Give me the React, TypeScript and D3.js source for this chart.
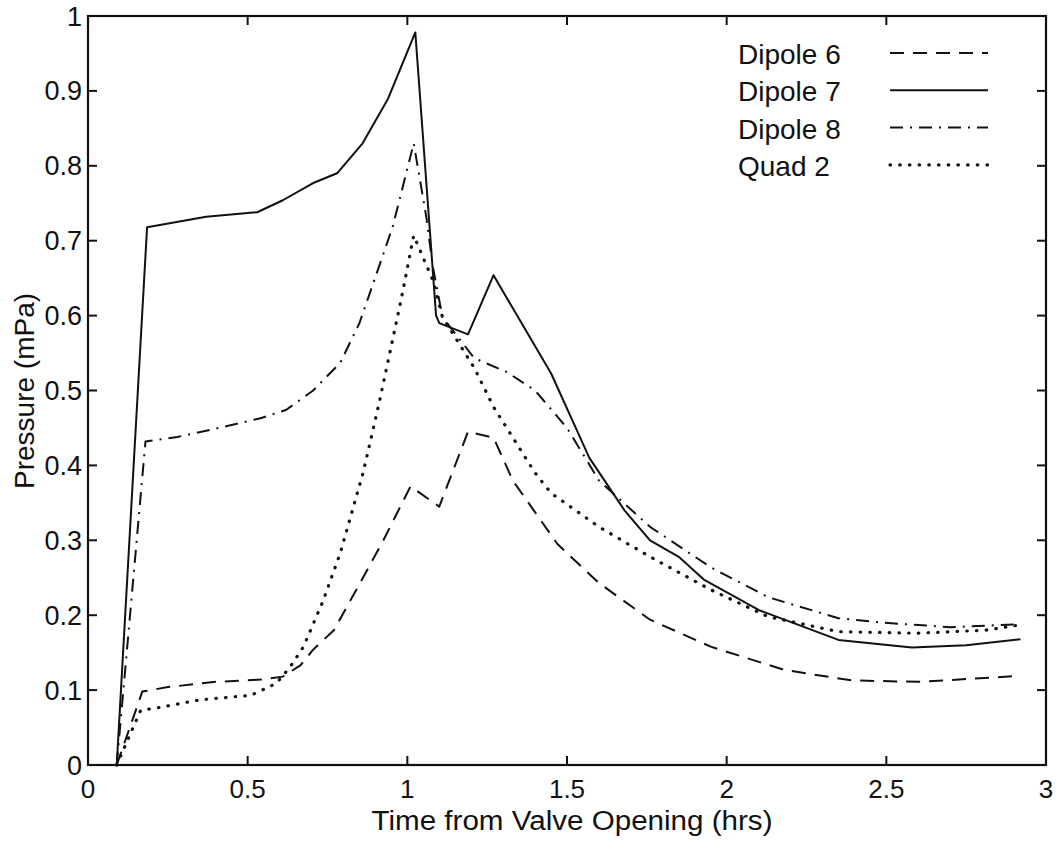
import React from "react";
import * as d3 from "d3";

const xTicks = [0, 0.5, 1, 1.5, 2, 2.5, 3];
const yTicks = [0, 0.1, 0.2, 0.3, 0.4, 0.5, 0.6, 0.7, 0.8, 0.9, 1];
const xTickLabels = ["0", "0.5", "1", "1.5", "2", "2.5", "3"];
const yTickLabels = ["0", "0.1", "0.2", "0.3", "0.4", "0.5", "0.6", "0.7", "0.8", "0.9", "1"];

const seriesNames = ["Dipole 6", "Dipole 7", "Dipole 8", "Quad 2"];

const dipole6X = [0.09, 0.17, 0.25, 0.40, 0.54, 0.61, 0.665, 0.705, 0.77, 0.843, 0.925, 1.01, 1.10, 1.19, 1.27, 1.33, 1.47, 1.6, 1.76, 1.95, 2.18, 2.39, 2.6, 2.92];
const dipole6Y = [0, 0.098, 0.104, 0.111, 0.114, 0.118, 0.133, 0.154, 0.18, 0.236, 0.30, 0.372, 0.345, 0.445, 0.437, 0.38, 0.295, 0.243, 0.194, 0.158, 0.127, 0.113, 0.111, 0.119];

const dipole7X = [0.09, 0.185, 0.37, 0.53, 0.61, 0.705, 0.78, 0.86, 0.94, 1.025, 1.09, 1.10, 1.19, 1.27, 1.33, 1.45, 1.57, 1.68, 1.76, 1.85, 1.93, 2.1, 2.35, 2.58, 2.75, 2.92];
const dipole7Y = [0, 0.718, 0.732, 0.738, 0.754, 0.777, 0.79, 0.83, 0.89, 0.978, 0.60, 0.59, 0.575, 0.654, 0.61, 0.523, 0.41, 0.34, 0.30, 0.278, 0.247, 0.207, 0.167, 0.157, 0.16, 0.168];

const dipole8X = [0.09, 0.18, 0.28, 0.41, 0.54, 0.62, 0.705, 0.79, 0.85, 0.915, 0.955, 1.02, 1.06, 1.08, 1.11, 1.21, 1.31, 1.40, 1.50, 1.60, 1.76, 1.95, 2.13, 2.35, 2.49, 2.70, 2.92];
const dipole8Y = [0, 0.432, 0.438, 0.45, 0.463, 0.474, 0.50, 0.537, 0.59, 0.67, 0.72, 0.83, 0.73, 0.665, 0.598, 0.543, 0.525, 0.50, 0.45, 0.38, 0.318, 0.264, 0.224, 0.196, 0.19, 0.184, 0.188];

const quad2X = [0.09, 0.165, 0.226, 0.35, 0.51, 0.59, 0.633, 0.675, 0.737, 0.79, 0.862, 0.91, 0.98, 1.02, 1.08, 1.11, 1.21, 1.27, 1.40, 1.45, 1.6, 1.76, 1.95, 2.13, 2.35, 2.6, 2.81, 2.92];
const quad2Y = [0, 0.073, 0.077, 0.087, 0.093, 0.109, 0.131, 0.158, 0.22, 0.283, 0.391, 0.48, 0.62, 0.707, 0.647, 0.598, 0.53, 0.478, 0.39, 0.363, 0.318, 0.278, 0.234, 0.198, 0.178, 0.176, 0.18, 0.187];

const FONT = "'Liberation Sans', Arial, Helvetica, sans-serif";

const styles = [
  { dash: "14 9", width: 2, cap: "butt" },
  { dash: "none", width: 2, cap: "butt" },
  { dash: "13 7 2 7", width: 2, cap: "butt" },
  { dash: "0.5 9.2", width: 3.2, cap: "round" },
];

export default function App() {
  const left = 88, right = 1046, top = 16, bottom = 765;
  const x = d3.scaleLinear().domain([0, 3]).range([left, right]);
  const y = d3.scaleLinear().domain([0, 1]).range([bottom, top]);
  const line = d3
    .line<[number, number]>()
    .x((d) => x(d[0]))
    .y((d) => y(d[1]));

  const data: [number, number][][] = [
    dipole6X.map((v, i) => [v, dipole6Y[i]]),
    dipole7X.map((v, i) => [v, dipole7Y[i]]),
    dipole8X.map((v, i) => [v, dipole8Y[i]]),
    quad2X.map((v, i) => [v, quad2Y[i]]),
  ];

  const tickLen = 9;

  return (
    <svg
      width={1062}
      height={856}
      style={{ position: "absolute", left: 0, top: 0, background: "#fff" }}
      fontFamily={FONT}
    >
      <rect x={0} y={0} width={1062} height={856} fill="#fff" />
      {/* series */}
      {data.map((d, i) => (
        <path
          key={i}
          d={line(d) || ""}
          fill="none"
          stroke="#111"
          strokeWidth={styles[i].width}
          strokeDasharray={styles[i].dash}
          strokeLinecap={styles[i].cap as any}
          strokeLinejoin="round"
        />
      ))}
      {/* box */}
      <rect
        x={left}
        y={top}
        width={right - left}
        height={bottom - top}
        fill="none"
        stroke="#111"
        strokeWidth={2.2}
      />
      {/* x ticks */}
      {xTicks.map((t, i) => (
        <g key={"xt" + i}>
          <line x1={x(t)} x2={x(t)} y1={bottom} y2={bottom - tickLen} stroke="#111" strokeWidth={2} />
          <line x1={x(t)} x2={x(t)} y1={top} y2={top + tickLen} stroke="#111" strokeWidth={2} />
          <text x={x(t)} y={798} fontSize={26} textAnchor="middle" fill="#111">
            {xTickLabels[i]}
          </text>
        </g>
      ))}
      {/* y ticks */}
      {yTicks.map((t, i) => (
        <g key={"yt" + i}>
          <line x1={left} x2={left + tickLen} y1={y(t)} y2={y(t)} stroke="#111" strokeWidth={2} />
          <line x1={right} x2={right - tickLen} y1={y(t)} y2={y(t)} stroke="#111" strokeWidth={2} />
          <text x={82} y={y(t) + 9.5} fontSize={27} textAnchor="end" fill="#111">
            {yTickLabels[i]}
          </text>
        </g>
      ))}
      {/* axis labels */}
      <text x={572} y={830} fontSize={27} textAnchor="middle" fill="#111" textLength={401} lengthAdjust="spacingAndGlyphs">
        Time from Valve Opening (hrs)
      </text>
      <text
        transform={`translate(34, 391) rotate(-90)`}
        fontSize={28}
        textAnchor="middle"
        fill="#111"
      >
        Pressure (mPa)
      </text>
      {/* legend */}
      {seriesNames.map((n, i) => {
        const ly = 53 + i * 37.3;
        return (
          <g key={"lg" + i}>
            <text x={738} y={ly + 11} fontSize={28} fill="#111">
              {n}
            </text>
            <line
              x1={890}
              x2={988}
              y1={ly}
              y2={ly}
              stroke="#111"
              strokeWidth={styles[i].width}
              strokeDasharray={styles[i].dash}
              strokeLinecap={styles[i].cap as any}
            />
          </g>
        );
      })}
    </svg>
  );
}
